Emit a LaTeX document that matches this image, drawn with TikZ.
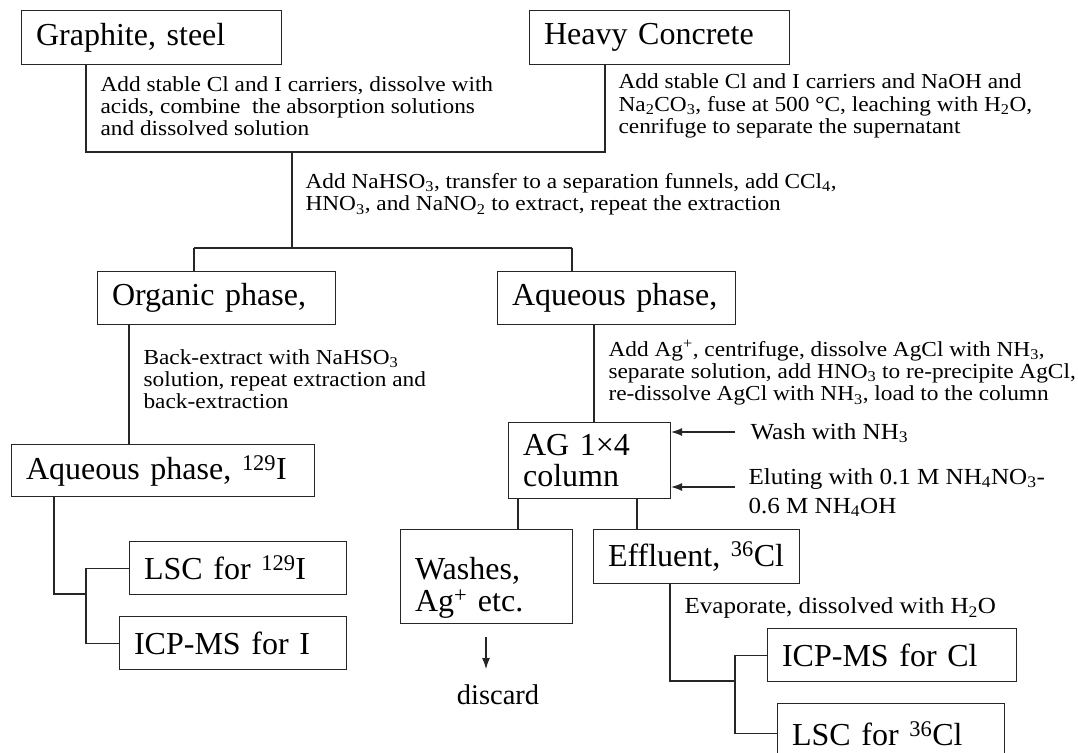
\documentclass[tikz,border=0pt]{standalone}
\usepackage{fontspec}
\setmainfont{Liberation Serif}
\newfontfamily\smfam{Liberation Serif}[FakeStretch=1.09]
\usetikzlibrary{arrows.meta}
\newcommand\bigf{\fontsize{32}{31}\selectfont}
\newcommand\smf{\smfam\fontsize{21.4}{22.3}\selectfont}
\newcommand\midf{\smfam\fontsize{23}{29}\selectfont}
\newcommand\evf{\smfam\fontsize{23}{26}\selectfont}
\newcommand\disf{\fontsize{28.5}{30}\selectfont}
\begin{document}
\begin{tikzpicture}[x=1pt,y=-1pt,
  line width=1.1pt, draw=black!85,
  bx/.style={draw=black!85, line width=1.1pt, anchor=north west, inner xsep=14.5pt, inner ysep=0pt, align=left, font=\bigf},
  txt/.style={anchor=west, inner sep=0pt, align=left, font=\smf},
  arr/.style={-{Latex[length=11pt,width=8pt]}}]
\useasboundingbox (0,0) rectangle (1078,752);

% boxes
\node[bx, text width=231pt, minimum height=54pt] (G) at (21,10) {Graphite,~steel};
\node[bx, text width=231pt, minimum height=54pt] (HC) at (529,10) {Heavy~Concrete};
\node[bx, text width=209pt, minimum height=53pt] (O) at (97,271) {Organic~phase,};
\node[bx, text width=209pt, minimum height=53pt] (A) at (497,271) {Aqueous~phase,};
\node[bx, text width=274pt, minimum height=52pt] (I) at (11,444) {Aqueous~phase,~\textsuperscript{129}I};
\node[bx, text width=188pt, minimum height=53pt] (L1) at (129,541) {LSC~for~\textsuperscript{129}I};
\node[bx, text width=198pt, minimum height=53pt] (M1) at (119,616) {ICP-MS~for~I};
\node[bx, text width=133pt, minimum height=76pt] (AG) at (508,422) {AG~1×4\\column};
\node[bx, text width=143pt, minimum height=94pt, text depth=16pt] (W) at (400,529) {Washes,\\[1pt]Ag\textsuperscript{+}~etc.};
\node[bx, text width=177pt, minimum height=54pt] (E) at (593,529) {Effluent,~\textsuperscript{36}Cl};
\node[bx, text width=220pt, minimum height=53pt] (M2) at (767,628) {ICP-MS~for~Cl};
\node[bx, text width=198pt, minimum height=60pt] (L2) at (777,703) {LSC~for~\textsuperscript{36}Cl};

% texts
\node[txt] (t1) at (100,106) {Add stable Cl and I carriers, dissolve with\\acids, combine~ the absorption solutions\\and dissolved solution};
\node[txt] (t2) at (618,106) {Add stable Cl and I carriers and NaOH and\\Na\textsubscript{2}CO\textsubscript{3}, fuse at 500 °C, leaching with H\textsubscript{2}O,\\cenrifuge to separate the supernatant};
\node[txt] (t3) at (305,194.5) {Add NaHSO\textsubscript{3}, transfer to a separation funnels, add CCl\textsubscript{4},\\HNO\textsubscript{3}, and NaNO\textsubscript{2} to extract, repeat the extraction};
\node[txt] (t4) at (143,379) {Back-extract with NaHSO\textsubscript{3}\\solution, repeat extraction and\\back-extraction};
\node[txt] (t5) at (608,373) {Add Ag\textsuperscript{+}, centrifuge, dissolve AgCl with NH\textsubscript{3},\\separate solution, add HNO\textsubscript{3} to re-precipite AgCl,\\re-dissolve AgCl with NH\textsubscript{3}, load to the column};
\node[txt, font=\midf] (tw) at (750,433) {Wash with NH\textsubscript{3}};
\node[txt, font=\midf] (te) at (748,492.5) {Eluting with 0.1 M NH\textsubscript{4}NO\textsubscript{3}-\\0.6 M NH\textsubscript{4}OH};
\node[txt, font=\evf] (tv) at (684,608) {Evaporate, dissolved with H\textsubscript{2}O};
\node[inner sep=0pt, font=\disf] (D) at (498,695) {discard};

% connector points
\coordinate (u1) at (86,152);
\coordinate (u2) at (605,152);
\coordinate (m1) at (292,152);
\coordinate (m2) at (292,248);
\coordinate (h1) at (194,248);
\coordinate (h2) at (572,248);
\coordinate (c1) at (129,0);
\coordinate (b1) at (54,594);
\coordinate (b2) at (86,594);
\coordinate (c2) at (594,0);
\coordinate (c3) at (518,0);
\coordinate (c4) at (637,0);
\coordinate (e1) at (670,681);
\coordinate (e2) at (735,681);
\coordinate (wa) at (735,432);
\coordinate (ea) at (735,487);
\coordinate (da) at (486,637);
\coordinate (db) at (486,669);

% connectors
\draw (G.south -| u1) -- (u1) -- (u2) -- (HC.south -| u2);
\draw (m1) -- (m2);
\draw (h1) -- (h2);
\draw (h1) -- (O.north -| h1);
\draw (h2) -- (A.north -| h2);
\draw (O.south -| c1) -- (I.north -| c1);
\draw (I.south -| b1) -- (b1) -- (b2);
\draw (L1.west) -| (b2) |- (M1.west);
\draw (A.south -| c2) -- (AG.north -| c2);
\draw (AG.south -| c3) -- (W.north -| c3);
\draw (AG.south -| c4) -- (E.north -| c4);
\draw (E.south -| e1) -- (e1) -- (e2);
\draw (M2.west) -| (e2) |- (L2.west);
\draw[arr] (wa) -- (wa -| AG.east);
\draw[arr] (ea) -- (ea -| AG.east);
\draw[arr] (da) -- (db);
\end{tikzpicture}
\end{document}
